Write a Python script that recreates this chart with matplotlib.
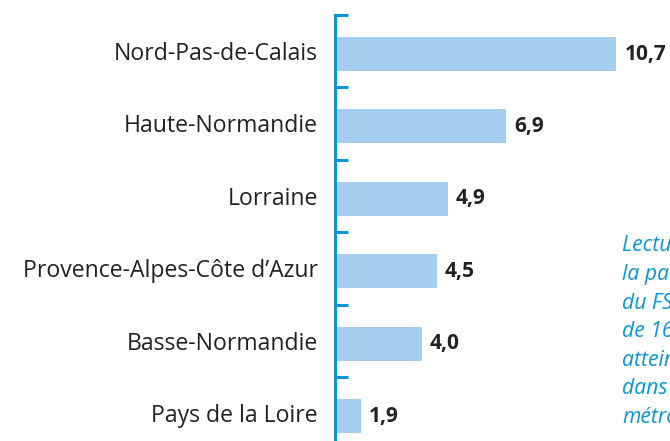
import matplotlib
matplotlib.use("Agg")
import matplotlib.pyplot as plt
import numpy as np

categories = ["Nord-Pas-de-Calais", "Haute-Normandie", "Lorraine",
              "Provence-Alpes-Côte d\u2019Azur", "Basse-Normandie", "Pays de la Loire"]
values = [10.7, 6.9, 4.9, 4.5, 4.0, 1.9]
value_labels = ["10,7", "6,9", "4,9", "4,5", "4,0", "1,9"]
note_lines = ["Lecture : en 2010,", "la part des jeunes", "du FSE sortis",
              "de 16 ans ou plus", "atteint 10,7 %", "dans la France", "métropolitaine."]

W, H = 670, 441
fig = plt.figure(figsize=(W / 100, H / 100), dpi=100)
left_px, top_px = 335, 15
ax = fig.add_axes([left_px / W, 0, 1 - left_px / W, 1 - top_px / H])

blue = "#0a96d6"
barc = "#a5cdee"
txt = "#222222"
fam = ["Open Sans", "DejaVu Sans"]

y = np.arange(len(categories))
ax.barh(y, values, height=0.47, color=barc, zorder=1)

ax.set_ylim(5.345, -0.54)
xmin = 1.0
px_per_unit = 29.0
ax.set_xlim(xmin, xmin + (W - left_px) / px_per_unit)

for s in ["top", "right", "bottom"]:
    ax.spines[s].set_visible(False)
ax.spines["left"].set_color(blue)
ax.spines["left"].set_linewidth(2.2)
ax.spines["left"].set_zorder(3)

ax.set_xticks([])
ax.set_yticks(y - 0.54, minor=False)
ax.set_yticklabels([])
ax.tick_params(axis="y", direction="in", length=9, width=2.2, color=blue, pad=0)

for yi, cat in zip(y, categories):
    ax.annotate(cat, xy=(0, yi), xycoords=("axes fraction", "data"),
                xytext=(-17, 0), textcoords="offset pixels",
                ha="right", va="center", fontsize=16.6, color=txt, family=fam)

for yi, v, lab in zip(y, values, value_labels):
    ax.annotate(lab, xy=(v, yi), xytext=(8, 0), textcoords="offset pixels",
                ha="left", va="center", fontsize=15, fontweight="bold",
                color=txt, family=fam)

for i, line in enumerate(note_lines):
    fig.text(622 / W, 1 - (246 + i * 28.6) / H, line, ha="left", va="center",
             fontsize=15.2, style="italic", color=blue, family=fam)

fig.savefig("out.png", dpi=100)
